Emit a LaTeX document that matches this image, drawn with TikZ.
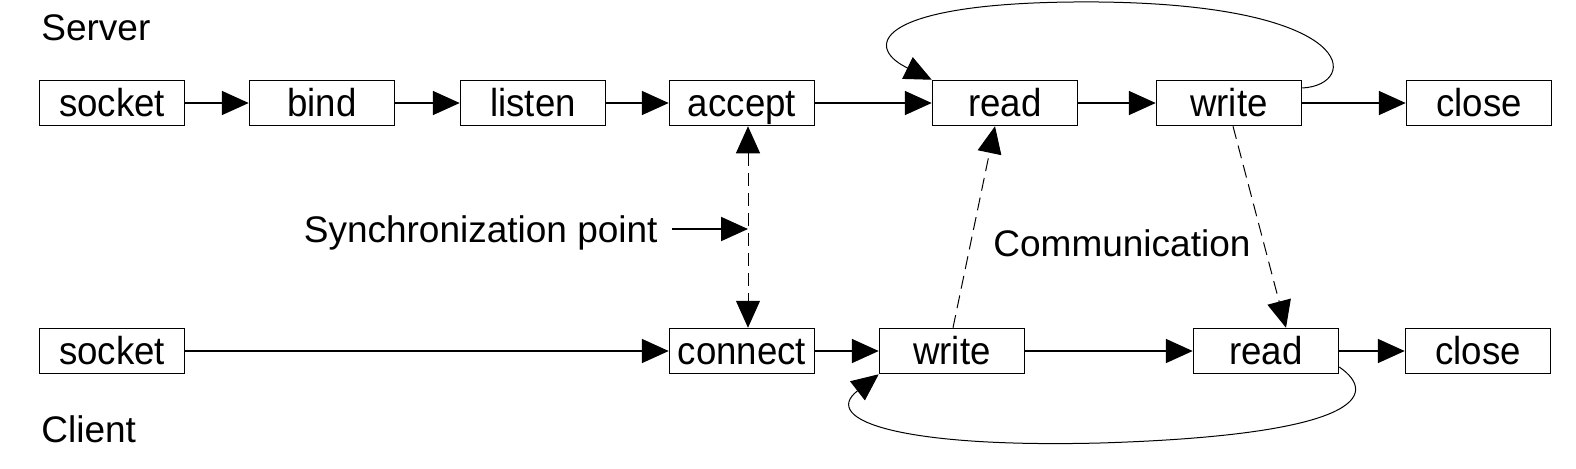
\documentclass[tikz,border=0pt]{standalone}
\usepackage{fontspec}
\setmainfont{Liberation Sans}
\newfontfamily\boxfont[FakeStretch=0.94]{Liberation Sans}
\usetikzlibrary{arrows.meta}
\begin{document}
\begin{tikzpicture}[x=0.5pt,y=-0.5pt,
  stepbox/.style={draw=black, line width=0.75pt, minimum width=72.5pt, minimum height=22.5pt,
    inner sep=0pt, font=\boxfont\fontsize{19.5}{22}\selectfont, text height=14.6pt, text depth=1.5pt},
  lbl/.style={inner sep=0pt, font=\fontsize{18.5}{22}\selectfont},
  tip/.tip={Triangle[length=13.5pt,width=12pt]},
  arr/.style={line width=0.9pt, -tip},
  thinarr/.style={line width=0.5pt, -tip},
  dasharr/.style={line width=0.5pt, dash pattern=on 6.5pt off 3.5pt}
]
\useasboundingbox (0,0) rectangle (1576,468);
% labels
\node[lbl, anchor=base west] (server) at (41,40) {Server};
\node[lbl, anchor=base west] (client) at (41,442) {Client};
\node[lbl, anchor=base east] (sync) at (658,242) {Synchronization point};
\node[lbl, anchor=base west] (comm) at (993,256) {Communication};
% server row
\node[stepbox] (s1) at (112,103) {socket};
\node[stepbox] (s2) at (322,103) {bind};
\node[stepbox] (s3) at (533,103) {listen};
\node[stepbox] (s4) at (742,103) {accept};
\node[stepbox] (s5) at (1005,103) {read};
\node[stepbox] (s6) at (1229,103) {write};
\node[stepbox] (s7) at (1479,103) {close};
% client row
\node[stepbox] (c1) at (112,351) {socket};
\node[stepbox] (c2) at (742,351) {connect};
\node[stepbox] (c3) at (952,351) {write};
\node[stepbox] (c4) at (1266,351) {read};
\node[stepbox] (c5) at (1478,351) {close};
% server arrows
\draw[arr] (s1) -- (s2);
\draw[arr] (s2) -- (s3);
\draw[arr] (s3) -- (s4);
\draw[arr] (s4) -- (s5);
\draw[arr] (s5) -- (s6);
\draw[arr] (s6) -- (s7);
% client arrows
\draw[arr] (c1) -- (c2);
\draw[arr] (c2) -- (c3);
\draw[arr] (c3) -- (c4);
\draw[arr] (c4) -- (c5);
% synchronization
\draw[dasharr, tip-tip] ([xshift=3pt]s4.south) -- ([xshift=3pt]c2.north);
\coordinate (syncpt) at (748,229);
\coordinate (syncfrom) at ([xshift=7pt]sync.east);
\draw[arr] (syncfrom |- syncpt) -- (syncpt);
% communication
\draw[dasharr, -tip] ([xshift=0.5pt]c3.north) -- ([xshift=-5pt]s5.south);
\draw[dasharr, -tip] ([xshift=2pt]s6.south) -- ([xshift=10pt]c4.north);
% loops
\draw[thinarr] ([yshift=7.5pt]s6.east) .. controls (1360,85) and (1360,5) .. (1100,2)
  .. controls (880,0) and (860,45) .. (s5.north west);
\draw[thinarr] ([yshift=-8pt]c4.east) .. controls (1380,395) and (1360,435) .. (1100,443)
  .. controls (900,448) and (820,420) .. (c3.south west);
\end{tikzpicture}
\end{document}
